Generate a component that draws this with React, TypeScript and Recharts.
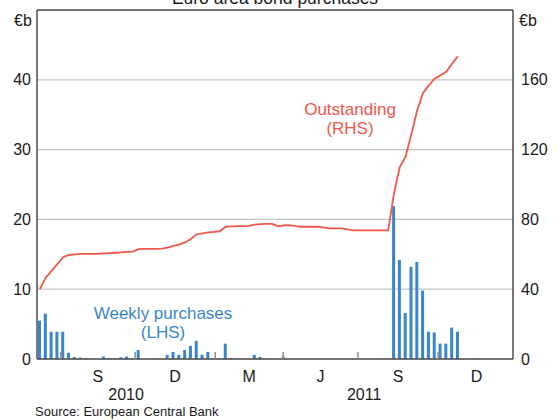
import React from "react";
import {
  ComposedChart,
  Bar,
  Line,
  XAxis,
  YAxis,
  CartesianGrid,
  ReferenceLine,
} from "recharts";

// weekly SMP purchases, €b (LHS), one value per week starting early June 2010
const purchases = [
  5.5, 6.5, 3.9, 3.9, 3.9, 0.9, 0.3, 0.2, 0.1, 0, 0, 0.35, 0.1, 0.1, 0.25, 0.35,
  0.1, 1.3, 0, 0, 0, 0, 0.6, 1.0, 0.6, 1.3, 1.9, 2.6, 0.6, 1.0, 0.1, 0, 2.2, 0.1,
  0, 0, 0, 0.6, 0.3, 0, 0, 0, 0.3, 0, 0, 0, 0, 0, 0, 0, 0, 0, 0, 0, 0, 0, 0, 0,
  0, 0, 0, 21.9, 14.2, 6.6, 13.2, 13.9, 9.8, 3.9, 3.8, 2.2, 2.2, 4.5, 3.9,
];

// outstanding holdings, €b (RHS)
const outstanding = [
  40.1, 46.6, 50.5, 54.4, 58.3, 59.6, 60.0, 60.2, 60.3, 60.3, 60.3, 60.5, 60.7,
  60.9, 61.1, 61.4, 61.5, 63.0, 63.1, 63.1, 63.1, 63.2, 63.8, 64.8, 65.5, 66.8,
  68.8, 71.5, 72.0, 72.6, 72.8, 73.2, 75.8, 76.0, 76.1, 76.2, 76.3, 77.0, 77.3,
  77.4, 77.4, 76.1, 76.6, 76.7, 76.2, 75.8, 75.8, 75.8, 75.8, 75.3, 74.9, 74.9,
  74.9, 74.3, 73.7, 73.7, 73.7, 73.7, 73.7, 73.7, 73.7, 95.1, 110.0, 116.0,
  129.0, 142.5, 152.5, 156.8, 160.6, 162.6, 164.6, 169.2, 173.4,
];

const weekCount = 82;
// quarter boundaries in weeks (Jul-10, Oct-10, Jan-11, Apr-11, Jul-11, Oct-11, Jan-12)
const quarterStarts = [4.1, 16.9, 30.7, 42.4, 55.3, 69.1, 82.3];
const monthLabels = ["S", "D", "M", "J", "S", "D"];
const yearBounds = [0, 30.7, weekCount];
const yearLabels = ["2010", "2011"];

const leftTicks = [0, 10, 20, 30, 40];
const rightTicks = [0, 40, 80, 120, 160];

const BLUE = "#3a86cc";
const RED = "#f2564b";
const AXIS = "#4d4d4d";
const FONT = "'Liberation Sans', Arial, sans-serif";

const data = purchases.map((p, i) => ({
  week: i + 0.5,
  purchases: p,
  outstanding: outstanding[i],
}));

const tickInfo = new Map<number, { kind: string; label?: string }>();
quarterStarts.slice(0, -1).forEach((q) => tickInfo.set(q, { kind: "q" }));
monthLabels.forEach((m, i) =>
  tickInfo.set((quarterStarts[i] + quarterStarts[i + 1]) / 2, {
    kind: "m",
    label: m,
  })
);
yearLabels.forEach((y, i) =>
  tickInfo.set((yearBounds[i] + yearBounds[i + 1]) / 2, { kind: "y", label: y })
);
const xTicks = Array.from(tickInfo.keys()).sort((a, b) => a - b);

function XTick(props: any) {
  const { x, y, payload } = props;
  const info = tickInfo.get(payload.value);
  if (!info) return null;
  if (info.kind === "q") {
    return (
      <line x1={x} x2={x} y1={y} y2={y - 7} stroke="#8c8c8c" strokeWidth={1.5} />
    );
  }
  return (
    <text
      x={x}
      y={y + (info.kind === "m" ? 23 : 41)}
      textAnchor="middle"
      fontSize={16}
      fontFamily={FONT}
      fill="#1a1a1a"
    >
      {info.label}
    </text>
  );
}

export default function App() {
  const tickStyle = { fontSize: 16, fill: "#1a1a1a", fontFamily: FONT };
  return (
    <div
      style={{
        position: "absolute",
        left: 0,
        top: 0,
        width: 560,
        height: 420,
        background: "#fff",
      }}
    >
      <ComposedChart
        width={560}
        height={420}
        data={data}
        margin={{ top: 10, right: 0, bottom: 0, left: 0 }}
        style={{ fontFamily: FONT }}
      >
        <CartesianGrid
          yAxisId="left"
          vertical={false}
          stroke="#c4c4c4"
          strokeWidth={1.2}
        />
        <XAxis
          dataKey="week"
          type="number"
          domain={[0, weekCount]}
          ticks={xTicks}
          interval={0}
          height={61}
          tick={<XTick />}
          tickLine={false}
          tickSize={0}
          tickMargin={0}
          axisLine={{ stroke: AXIS, strokeWidth: 1.5 }}
          allowDataOverflow
        />
        <YAxis
          yAxisId="left"
          width={37}
          domain={[0, 50]}
          ticks={leftTicks}
          tickLine={false}
          tickSize={0}
          tickMargin={6}
          tick={tickStyle}
          axisLine={{ stroke: AXIS, strokeWidth: 1.5 }}
          allowDataOverflow
        />
        <YAxis
          yAxisId="right"
          orientation="right"
          width={47}
          domain={[0, 200]}
          ticks={rightTicks}
          tickLine={false}
          tickSize={0}
          tickMargin={8}
          tick={tickStyle}
          axisLine={{ stroke: AXIS, strokeWidth: 1.5 }}
          allowDataOverflow
        />
        <ReferenceLine yAxisId="left" y={50} stroke={AXIS} strokeWidth={1.5} />
        <Bar
          yAxisId="left"
          dataKey="purchases"
          fill={BLUE}
          barSize={3}
          isAnimationActive={false}
        />
        <Line
          yAxisId="right"
          dataKey="outstanding"
          stroke={RED}
          strokeWidth={1.8}
          dot={false}
          type="linear"
          isAnimationActive={false}
        />
      </ComposedChart>
      <svg
        width={560}
        height={420}
        style={{ position: "absolute", left: 0, top: 0, pointerEvents: "none" }}
        fontFamily={FONT}
      >
        <text x={275} y={4} textAnchor="middle" fontSize={17.5} fill="#1a1a1a">
          Euro area bond purchases
        </text>
        <text x={23} y={26} textAnchor="middle" fontSize={16} fill="#1a1a1a">
          €b
        </text>
        <text x={519} y={26} fontSize={16} fill="#1a1a1a">
          €b
        </text>
        <text x={350} y={115} textAnchor="middle" fontSize={17} fill={RED}>
          Outstanding
        </text>
        <text x={350} y={134} textAnchor="middle" fontSize={17} fill={RED}>
          (RHS)
        </text>
        <text x={163} y={319} textAnchor="middle" fontSize={17} fill={BLUE}>
          Weekly purchases
        </text>
        <text x={163} y={338} textAnchor="middle" fontSize={17} fill={BLUE}>
          (LHS)
        </text>
        <text x={35} y={416} fontSize={13} fill="#1a1a1a">
          Source: European Central Bank
        </text>
      </svg>
    </div>
  );
}
